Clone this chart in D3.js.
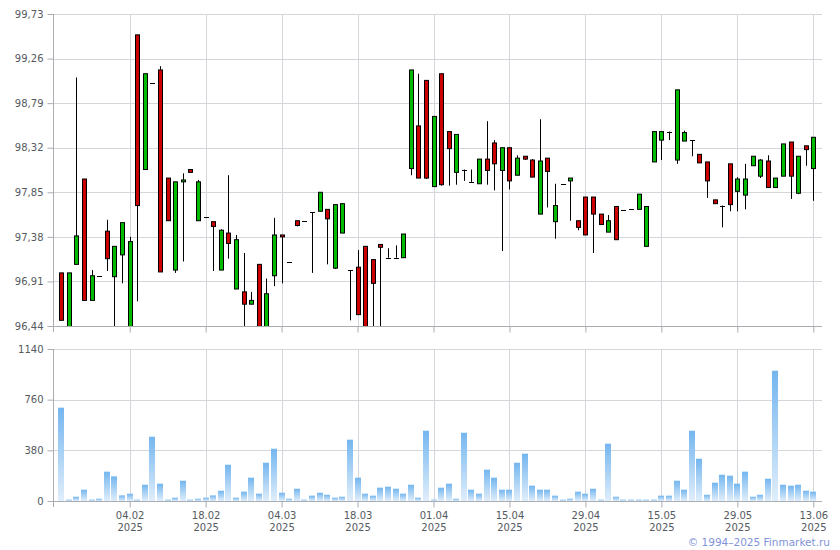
<!DOCTYPE html>
<html><head><meta charset="utf-8">
<script src="https://cdn.jsdelivr.net/npm/d3@7/dist/d3.min.js"></script>
<style>
html,body{margin:0;padding:0;background:#fff;}
svg{display:block;font-family:"DejaVu Sans",Verdana,sans-serif;}
</style></head>
<body><svg id="c" width="840" height="550"></svg>
<script>
const open  = [97.00,96.40,97.09,97.99,96.71,96.97,97.44,96.96,97.19,96.40,99.51,98.09,99.00,99.14,98.00,97.03,97.96,98.09,97.55,97.59,
               97.54,97.03,97.42,96.83,96.80,96.67,97.09,96.40,96.97,97.40,97.12,97.55,97.55,97.64,97.65,97.67,97.05,97.42,97.03,97.06,
               97.28,97.14,97.30,97.16,97.16,97.16,98.10,98.55,99.03,97.91,99.10,98.49,98.06,98.09,97.96,97.94,98.20,98.37,98.08,98.32,
               98.03,98.23,98.19,97.62,98.21,97.54,97.94,97.97,97.55,97.80,97.80,97.62,97.43,97.70,97.66,97.67,97.67,97.28,98.17,98.40,
               98.49,98.19,98.39,98.40,98.25,98.17,97.77,97.71,98.15,97.86,97.82,98.13,98.02,98.18,97.90,98.02,98.38,97.84,98.34,98.10];
const high  = [97.00,97.00,99.06,97.99,97.03,96.97,97.56,97.28,97.53,97.38,99.51,99.10,99.00,99.18,98.00,97.96,98.05,98.09,97.98,97.59,
               97.54,97.46,98.03,97.40,97.21,96.80,97.09,96.94,97.58,97.40,97.12,97.55,97.55,97.64,97.85,97.67,97.72,97.73,97.03,97.24,
               97.28,97.14,97.30,97.26,97.29,97.41,99.14,99.10,99.03,98.65,99.10,98.49,98.46,98.09,98.09,98.20,98.60,98.40,98.32,98.32,
               98.24,98.23,98.20,98.62,98.21,97.94,97.94,98.00,97.55,97.80,97.80,97.62,97.61,97.70,97.66,97.67,97.83,97.70,98.49,98.49,
               98.49,98.93,98.50,98.40,98.25,98.17,97.77,97.71,98.15,98.01,98.15,98.23,98.20,98.24,98.00,98.36,98.38,98.23,98.34,98.43];
const low   = [96.50,96.40,97.09,96.71,96.71,96.97,97.02,96.40,96.89,96.40,96.70,98.09,99.00,97.01,97.55,97.00,97.12,98.06,97.55,97.59,
               97.02,97.03,97.15,96.83,96.40,96.67,96.40,96.40,96.86,96.89,97.12,97.49,97.55,97.00,97.65,97.09,97.04,97.42,96.50,96.56,
               96.40,96.40,96.40,97.16,97.16,97.16,98.03,98.00,97.99,97.91,97.92,97.92,97.93,97.97,97.96,97.94,97.93,97.87,97.23,97.88,
               98.03,98.19,98.01,97.62,97.69,97.36,97.94,97.55,97.45,97.40,97.21,97.51,97.43,97.35,97.66,97.67,97.67,97.28,98.17,98.19,
               98.40,98.15,98.39,98.23,98.16,97.79,97.73,97.48,97.65,97.65,97.67,98.13,98.00,97.90,97.90,98.02,97.78,97.83,98.13,97.76];
const close = [96.50,97.00,97.39,96.71,96.97,96.97,97.15,97.28,97.53,97.33,97.71,99.10,99.00,97.01,97.55,97.96,97.98,98.06,97.96,97.59,
               97.49,97.45,97.31,97.35,96.67,96.71,96.40,96.78,97.40,97.38,97.12,97.50,97.55,97.64,97.85,97.57,97.72,97.73,97.03,96.56,
               96.40,96.89,97.27,97.16,97.16,97.41,99.14,98.00,98.00,98.65,97.93,98.31,98.46,98.09,97.96,98.20,98.08,98.15,98.32,97.97,
               98.21,98.20,98.01,98.18,98.07,97.71,97.94,98.00,97.48,97.40,97.62,97.51,97.55,97.35,97.66,97.67,97.83,97.70,98.49,98.49,
               98.49,98.93,98.48,98.40,98.16,97.97,97.73,97.71,97.72,97.99,97.99,98.23,98.19,97.90,98.00,98.36,98.02,98.23,98.30,98.43];
const volume = [700,10,32,85,10,17,220,185,42,55,10,122,482,130,10,25,152,10,17,25,
                42,77,272,25,70,175,55,287,392,62,17,92,10,40,62,47,25,32,460,175,
                55,40,100,107,92,55,122,25,527,10,100,130,17,512,85,55,235,175,85,85,
                287,355,115,85,85,40,10,17,70,55,92,10,430,32,10,10,10,10,10,40,
                40,152,85,527,317,47,137,197,190,130,220,32,47,167,977,122,115,122,77,70];
const priceTicks = [96.44,96.91,97.38,97.85,98.32,98.79,99.26,99.73];
const volTicks = [0,380,760,1140];
const dateTickIndex = [9,19,29,39,49,59,69,79,89,99];
const dateTickLabels = ["04.02","18.02","04.03","18.03","01.04","15.04","29.04","15.05","29.05","13.06"];
const yearLabel = "2025";

const svg = d3.select("#c");
const L = 53, R = 822;
const pTop = 14, pBot = 326, vTop = 349, vBot = 501;
const x = d3.scaleLinear().domain([0, open.length - 1]).range([61.3, 813.3]);
const yP = d3.scaleLinear().domain([96.44, 99.73]).range([pBot, pTop]);
const yV = d3.scaleLinear().domain([0, 1140]).range([vBot, vTop]);
const gridC = "#d3d7db", axisC = "#a9acb1", textC = "#555a60";
const px = v => Math.round(v) + 0.5;

const defs = svg.append("defs");
defs.append("clipPath").attr("id","clipP").append("rect").attr("x",L).attr("y",pTop).attr("width",R-L).attr("height",pBot-pTop);
const gr = defs.append("linearGradient").attr("id","vg").attr("x1",0).attr("y1",0).attr("x2",0).attr("y2",1);
gr.append("stop").attr("offset","0%").attr("stop-color","#74b6ef");
gr.append("stop").attr("offset","100%").attr("stop-color","#e0eefb");

// grids
const grid = svg.append("g");
priceTicks.forEach(t => grid.append("line").attr("x1",L).attr("x2",R).attr("y1",px(yP(t))).attr("y2",px(yP(t))).attr("stroke",gridC));
volTicks.filter(t=>t>0).forEach(t => grid.append("line").attr("x1",L).attr("x2",R).attr("y1",px(yV(t))).attr("y2",px(yV(t))).attr("stroke",gridC));
dateTickIndex.forEach(i => {
  grid.append("line").attr("x1",px(x(i))).attr("x2",px(x(i))).attr("y1",pTop).attr("y2",pBot).attr("stroke",gridC);
  grid.append("line").attr("x1",px(x(i))).attr("x2",px(x(i))).attr("y1",vTop).attr("y2",vBot).attr("stroke",gridC);
});

// axes
const fmt = d => d3.format(".2f")(d).replace(".", ",");
const ayP = svg.append("g").attr("transform",`translate(${L+0.5},0)`)
  .call(d3.axisLeft(yP).tickValues(priceTicks).tickFormat(fmt).tickSizeInner(6).tickSizeOuter(0).tickPadding(4));
const ayV = svg.append("g").attr("transform",`translate(${L+0.5},0)`)
  .call(d3.axisLeft(yV).tickValues(volTicks).tickFormat(d3.format("d")).tickSizeInner(6).tickSizeOuter(0).tickPadding(4));
const axP = svg.append("g").attr("transform",`translate(0,${pBot+0.5})`)
  .call(d3.axisBottom(x).tickValues(dateTickIndex).tickFormat("").tickSizeInner(6).tickSizeOuter(0));
const axV = svg.append("g").attr("transform",`translate(0,${vBot+0.5})`)
  .call(d3.axisBottom(x).tickValues(dateTickIndex).tickFormat((d,i)=>dateTickLabels[i]).tickSizeInner(6).tickSizeOuter(0).tickPadding(4));
[ayP, ayV, axP, axV].forEach(g => {
  g.select(".domain").remove();
  g.selectAll(".tick line").attr("stroke",axisC);
  g.selectAll(".tick text").attr("fill",textC).style("font-size","10px").style("font-family","'DejaVu Sans',Verdana,sans-serif");
});
axV.selectAll(".tick text").each(function(){
  const t = d3.select(this); const lab = t.text(); t.text(null);
  t.append("tspan").attr("x",0).attr("dy","0.71em").text(lab);
  t.append("tspan").attr("x",0).attr("dy","1.2em").text(yearLabel);
});
// axis lines
svg.append("line").attr("x1",L+0.5).attr("x2",L+0.5).attr("y1",pTop).attr("y2",pBot+6).attr("stroke",axisC);
svg.append("line").attr("x1",L+0.5).attr("x2",L+0.5).attr("y1",vTop).attr("y2",vBot+6).attr("stroke",axisC);
svg.append("line").attr("x1",L).attr("x2",R).attr("y1",pBot+0.5).attr("y2",pBot+0.5).attr("stroke",axisC);
svg.append("line").attr("x1",L).attr("x2",R).attr("y1",vBot+0.5).attr("y2",vBot+0.5).attr("stroke",axisC);

// volume bars
svg.append("g").selectAll("rect").data(volume).join("rect")
  .attr("x",(d,i)=>Math.round(x(i))-3).attr("width",6)
  .attr("y",d=>yV(d)).attr("height",d=>vBot-yV(d))
  .attr("fill","url(#vg)");

// candles
const cg = svg.append("g").attr("clip-path","url(#clipP)");
open.forEach((o,i) => {
  const c = close[i], h = high[i], l = low[i];
  const cx = Math.round(x(i)) + 0.5;
  const g = cg.append("g");
  g.append("line").attr("x1",cx).attr("x2",cx).attr("y1",yP(h)).attr("y2",yP(l)).attr("stroke","#000").attr("stroke-width",1);
  if (Math.abs(o - c) < 0.005) {
    g.append("line").attr("x1",cx-2.5).attr("x2",cx+2.5).attr("y1",Math.round(yP(o))+0.5).attr("y2",Math.round(yP(o))+0.5).attr("stroke","#000");
  } else {
    const top = yP(Math.max(o,c)), bot = yP(Math.min(o,c));
    g.append("rect").attr("x",cx-2).attr("width",4).attr("y",top).attr("height",Math.max(1,bot-top))
      .attr("fill", c > o ? "#00bb00" : "#cc0000").attr("stroke","#000").attr("stroke-width",1);
  }
});

svg.append("text").attr("x",830).attr("y",546).attr("text-anchor","end")
  .attr("fill","#7f93d9").style("font-size","10.5px").text("© 1994–2025 Finmarket.ru");
</script></body></html>
